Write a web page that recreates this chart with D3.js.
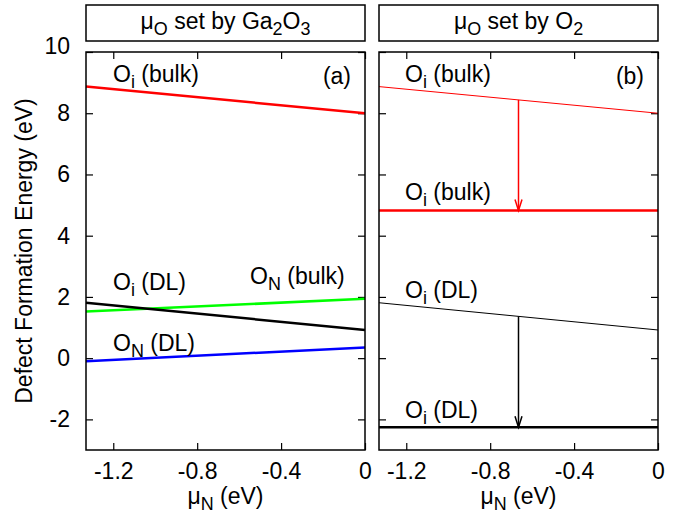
<!DOCTYPE html>
<html><head><meta charset="utf-8">
<script src="https://cdn.jsdelivr.net/npm/d3@7"></script>
<style>body{margin:0;background:#fff}svg{display:block}</style>
</head><body>
<script>
// ---- data ----
const muN = [-1.33, 0];                 // x endpoints (eV)
const oiBulk = [8.87, 8.0];             // O_i (bulk), μO set by Ga2O3
const oiDL = [1.81, 0.92];              // O_i (DL)
const onBulk = [1.52, 1.94];            // O_N (bulk)
const onDL = [-0.10, 0.35];             // O_N (DL)
const oiBulkO2 = [4.82, 4.82];          // O_i (bulk), μO set by O2
const oiDLO2 = [-2.26, -2.26];          // O_i (DL), μO set by O2
const arrowMu = -0.665;
const xTicks = [-1.2, -0.8, -0.4, 0];
const yTicks = [-2, 0, 2, 4, 6, 8, 10];
const xTickLabels = ["-1.2", "-0.8", "-0.4", "0"];
const yTickLabels = ["-2", "0", "2", "4", "6", "8", "10"];

const W = 690, H = 517;
const FONT = "'Liberation Sans', Arial, Helvetica, sans-serif";
const FS = 23;
const yTop = 52, yBot = 450;
const panels = [{x0: 86, x1: 365, tag: "(a)"}, {x0: 379, x1: 658, tag: "(b)"}];

const svg = d3.select("body").append("svg").attr("width", W).attr("height", H)
  .style("font-family", FONT);

const y = d3.scaleLinear().domain([-3, 10]).range([yBot, yTop]);

function rich(g, x, yy, parts, anchor) {
  const t = g.append("text").attr("x", x).attr("y", yy)
    .attr("font-size", FS).attr("text-anchor", anchor || "start").attr("fill", "#000");
  let down = false;
  parts.forEach(p => {
    const s = t.append("tspan").text(p.t);
    if (p.sub) { s.attr("font-size", FS * 0.78).attr("dy", down ? 0 : 6); down = true; }
    else { if (down) s.attr("dy", -6); down = false; }
  });
  return t;
}

function interp(arr, mu) { return arr[0] + (arr[1] - arr[0]) * (mu - muN[0]) / (muN[1] - muN[0]); }

panels.forEach((p, i) => {
  const x = d3.scaleLinear().domain([muN[0], 0]).range([p.x0, p.x1]);
  const g = svg.append("g");
  const line = d3.line().x((d, k) => x(muN[k])).y(d => y(d));

  // title box
  g.append("rect").attr("x", p.x0).attr("y", 5).attr("width", p.x1 - p.x0).attr("height", 36)
    .attr("fill", "none").attr("stroke", "#000").attr("stroke-width", 1.5);
  const title = i === 0
    ? [{t: "μ"}, {t: "O", sub: true}, {t: " set by Ga"}, {t: "2", sub: true}, {t: "O"}, {t: "3", sub: true}]
    : [{t: "μ"}, {t: "O", sub: true}, {t: " set by O"}, {t: "2", sub: true}];
  rich(g, (p.x0 + p.x1) / 2, 29, title, "middle");

  // axes (ticks inward, mirrored)
  const tl = 7;
  const axB = d3.axisBottom(x).tickValues(xTicks).tickSize(-tl).tickFormat((d, k) => xTickLabels[k]).tickPadding(13);
  const axT = d3.axisTop(x).tickValues(xTicks).tickSize(-tl).tickFormat("");
  const axL = d3.axisLeft(y).tickValues(yTicks).tickSize(-tl).tickPadding(16)
    .tickFormat((d, k) => i === 0 ? yTickLabels[k] : "");
  const axR = d3.axisRight(y).tickValues(yTicks).tickSize(-tl).tickFormat("");
  [[axB, `translate(0,${yBot})`], [axT, `translate(0,${yTop})`], [axL, `translate(${p.x0},0)`], [axR, `translate(${p.x1},0)`]]
    .forEach(([a, tr]) => {
      const ag = g.append("g").attr("transform", tr).call(a);
      ag.select(".domain").remove();
      ag.selectAll("line").attr("stroke", "#000").attr("stroke-width", 1.2);
      ag.selectAll("text").attr("font-size", FS).attr("font-family", FONT).attr("fill", "#000");
    });
  if (i === 0) {
    g.selectAll("text").filter(function() { return d3.select(this).text() === "10"; }).attr("dy", "0.05em");
  }

  // data lines
  if (i === 0) {
    g.append("path").attr("d", line(oiBulk)).attr("stroke", "#ff0000").attr("stroke-width", 2.5).attr("fill", "none");
    g.append("path").attr("d", line(onBulk)).attr("stroke", "#00ff00").attr("stroke-width", 2.5).attr("fill", "none");
    g.append("path").attr("d", line(oiDL)).attr("stroke", "#000").attr("stroke-width", 2.5).attr("fill", "none");
    g.append("path").attr("d", line(onDL)).attr("stroke", "#0000ff").attr("stroke-width", 2.5).attr("fill", "none");
    rich(g, 113, 82, [{t: "O"}, {t: "i", sub: true}, {t: " (bulk)"}]);
    rich(g, 113, 290, [{t: "O"}, {t: "i", sub: true}, {t: " (DL)"}]);
    rich(g, 250, 284, [{t: "O"}, {t: "N", sub: true}, {t: " (bulk)"}]);
    rich(g, 113, 351, [{t: "O"}, {t: "N", sub: true}, {t: " (DL)"}]);
  } else {
    g.append("path").attr("d", line(oiBulk)).attr("stroke", "#ff0000").attr("stroke-width", 1).attr("fill", "none");
    g.append("path").attr("d", line(oiBulkO2)).attr("stroke", "#ff0000").attr("stroke-width", 2.5).attr("fill", "none");
    g.append("path").attr("d", line(oiDL)).attr("stroke", "#000").attr("stroke-width", 1).attr("fill", "none");
    g.append("path").attr("d", line(oiDLO2)).attr("stroke", "#000").attr("stroke-width", 2.5).attr("fill", "none");
    const arrow = (from, to, col) => {
      const ax = x(arrowMu), y1 = y(interp(from, arrowMu)), y2 = y(to[0]);
      g.append("line").attr("x1", ax).attr("x2", ax).attr("y1", y1).attr("y2", y2)
        .attr("stroke", col).attr("stroke-width", 1.5);
      g.append("path").attr("d", `M${ax - 3.5},${y2 - 11}L${ax},${y2}L${ax + 3.5},${y2 - 11}`)
        .attr("stroke", col).attr("stroke-width", 1.5).attr("fill", "none");
    };
    arrow(oiBulk, oiBulkO2, "#ff0000");
    arrow(oiDL, oiDLO2, "#000");
    rich(g, 405, 82, [{t: "O"}, {t: "i", sub: true}, {t: " (bulk)"}]);
    rich(g, 405, 200, [{t: "O"}, {t: "i", sub: true}, {t: " (bulk)"}]);
    rich(g, 405, 298, [{t: "O"}, {t: "i", sub: true}, {t: " (DL)"}]);
    rich(g, 405, 418, [{t: "O"}, {t: "i", sub: true}, {t: " (DL)"}]);
  }
  g.append("text").attr("x", p.x1 - 14).attr("y", 84).attr("text-anchor", "end")
    .attr("font-size", FS).text(p.tag);

  // frame
  g.append("rect").attr("x", p.x0).attr("y", yTop).attr("width", p.x1 - p.x0).attr("height", yBot - yTop)
    .attr("fill", "none").attr("stroke", "#000").attr("stroke-width", 1.5);

  // x axis title
  rich(g, (p.x0 + p.x1) / 2, 504, [{t: "μ"}, {t: "N", sub: true}, {t: " (eV)"}], "middle");
});

svg.append("text").attr("transform", `translate(32,${(yTop + yBot) / 2}) rotate(-90)`)
  .attr("text-anchor", "middle").attr("font-size", FS).text("Defect Formation Energy (eV)");
</script>
</body></html>
